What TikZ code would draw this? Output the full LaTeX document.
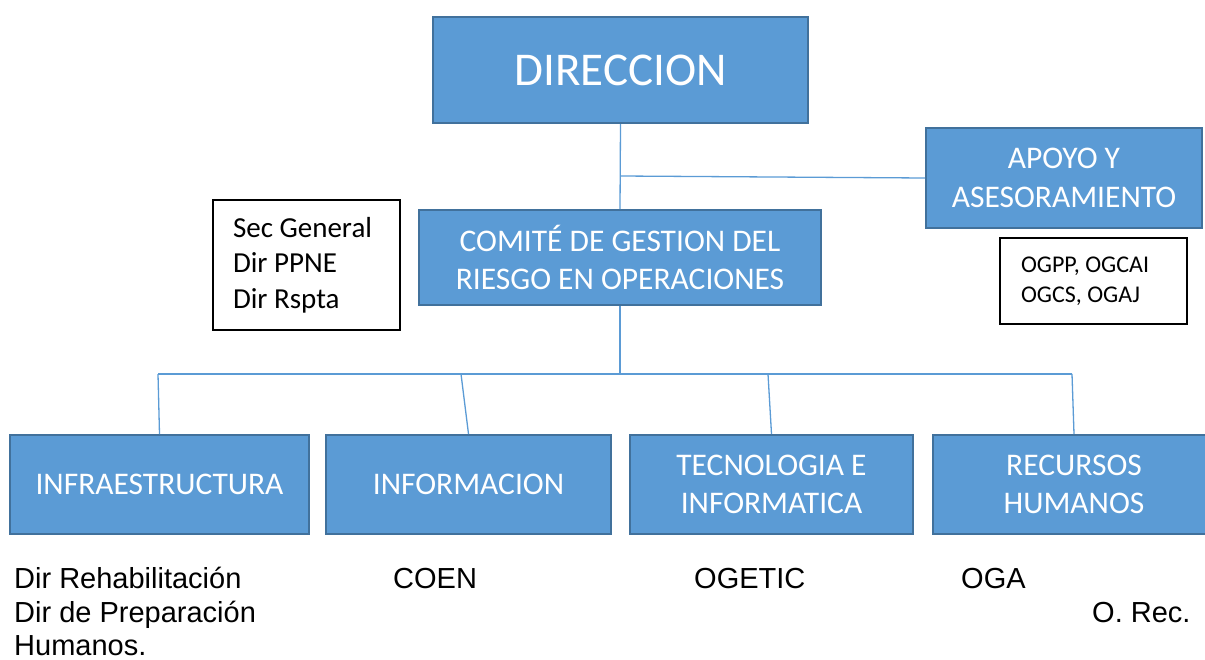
\documentclass[tikz,border=0pt]{standalone}
\usepackage{fontspec}
\setmainfont{Carlito}
\newfontfamily\arialf{Liberation Sans}
\definecolor{boxblue}{HTML}{5B9BD5}
\definecolor{boxedge}{HTML}{41719C}
\begin{document}
\begin{tikzpicture}[x=1pt,y=-1pt,
  bluebox/.style={draw=boxedge,fill=boxblue,line width=2pt,text=white,align=center,inner sep=0pt,font=\fontsize{31.5}{38.5}\selectfont},
  notebox/.style={draw=black,line width=2pt,fill=white,align=flush left,inner ysep=0pt},
  conn/.style={draw=boxblue,line width=1.3pt},
  lbl/.style={anchor=base west,inner sep=0pt,font=\arialf\fontsize{29}{33}\selectfont}]
\useasboundingbox (0,0) rectangle (1205,659);
\clip (0,0) rectangle (1205,659);
% boxes
\node[bluebox,minimum width=375,minimum height=106,font=\fontsize{47}{50}\selectfont] (dir) at (620.5,70) {DIRECCION};
\node[bluebox,minimum width=276,minimum height=100] (apoyo) at (1064,178) {APOYO Y\\ASESORAMIENTO};
\node[bluebox,minimum width=402,minimum height=95] (comite) at (620,257.5) {COMIT\'E DE GESTION DEL\\RIESGO EN OPERACIONES};
\node[notebox,text width=147,inner xsep=20,minimum height=130,font=\fontsize{29}{35.5}\selectfont] (sec) at (306.5,265) {Sec General\\Dir PPNE\\Dir Rspta};
\node[notebox,text width=145,inner xsep=21,minimum height=86,font=\fontsize{24}{30}\selectfont] (ogpp) at (1093.5,281) {OGPP, OGCAI\\OGCS, OGAJ};
\node[bluebox,minimum width=299,minimum height=99] (infra) at (159.5,484.5) {INFRAESTRUCTURA};
\node[bluebox,minimum width=285,minimum height=99] (info) at (468.5,484.5) {INFORMACION};
\node[bluebox,minimum width=283,minimum height=99] (tec) at (771.5,484.5) {TECNOLOGIA E\\INFORMATICA};
\node[bluebox,minimum width=282,minimum height=99] (rec) at (1074,484.5) {RECURSOS\\HUMANOS};
% connectors
\coordinate (j1) at (621,176);
\coordinate (j2) at (620,374);
\coordinate (b1) at (158,374);
\coordinate (b2) at (461,374);
\coordinate (b3) at (768,374);
\coordinate (b4) at (1072,374);
\draw[conn] (dir.south) -- (comite.north);
\draw[conn] (j1) -- (apoyo.west);
\draw[conn] (comite.south) -- (j2);
\draw[conn] (b1) -- (b4);
\draw[conn] (b1) -- (infra.north);
\draw[conn] (b2) -- (info.north);
\draw[conn] (b3) -- (tec.north);
\draw[conn] (b4) -- (rec.north);
% labels
\node[lbl] (l1) at (14,588) {Dir Rehabilitación};
\node[lbl] (l2) at (14,622) {Dir de Preparación};
\node[lbl] (l3) at (14,655) {Humanos.};
\node[lbl] (l4) at (393,588) {COEN};
\node[lbl] (l5) at (694,588) {OGETIC};
\node[lbl] (l6) at (961,588) {OGA};
\node[lbl] (l7) at (1092,622) {O. Rec.};
\end{tikzpicture}
\end{document}
